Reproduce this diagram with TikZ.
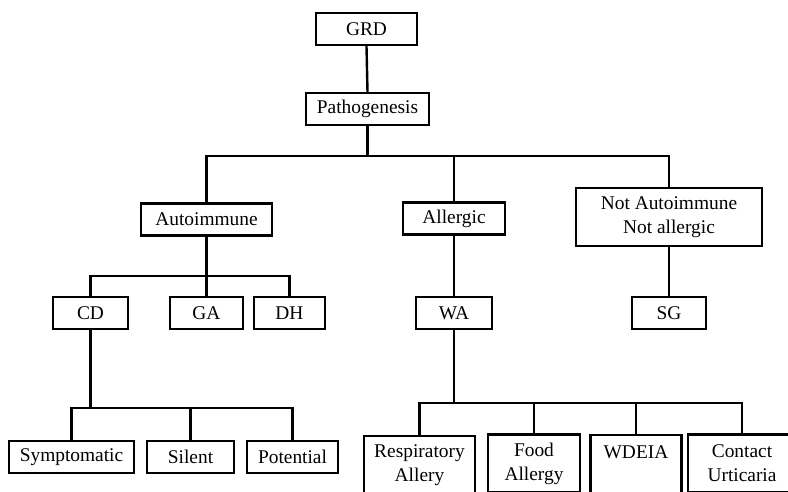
\documentclass[tikz,border=0pt]{standalone}
\usepackage{fontspec}
\setmainfont{Liberation Serif}
\usetikzlibrary{positioning}

\tikzset{
  box/.style={draw, line width=2.4pt, inner sep=0pt, align=center,
    font=\fontsize{19.4}{24}\selectfont, minimum height=32pt},
  tallbox/.style={box, minimum height=58pt},
  link/.style={line width=2.4pt}
}

\begin{document}
\begin{tikzpicture}[x=1pt, y=-1pt]
        \useasboundingbox (0,0) rectangle (788,491);
        \clip (0,0) rectangle (788,491);

        % Top levels
        \node[box, minimum width=101pt] (grd) at (366.5, 29) {GRD};
        \node[box, minimum width=123pt] (patho) at (367.5, 109) {Pathogenesis};

        % Kinds of pathogenesis
        \node[box, minimum width=131pt] (auto) at (206.5, 219.5) {Autoimmune};
        \node[box, minimum width=102pt] (allerg) at (454, 218.5) {Allergic};
        \node[tallbox, minimum width=186pt] (notai) at (669, 217) {Not Autoimmune\\Not allergic};

        % Autoimmune forms
        \node[box, minimum width=75pt] (cd) at (90.5, 313) {CD};
        \node[box, minimum width=73pt] (ga) at (206.5, 313) {GA};
        \node[box, minimum width=71pt] (dh) at (289.5, 313) {DH};

        % Allergic / other forms
        \node[box, minimum width=76pt] (wa) at (454, 313) {WA};
        \node[box, minimum width=74pt] (sg) at (669, 313) {SG};

        % CD forms
        \node[box, minimum width=125pt] (sympt) at (71.5, 457) {Symptomatic};
        \node[box, minimum width=87pt] (silent) at (190.5, 457) {Silent};
        \node[box, minimum width=91pt] (potent) at (292.5, 457) {Potential};

        % WA forms
        \node[tallbox, minimum width=111pt] (resp) at (419.5, 465) {Respiratory\\Allery};
        \node[tallbox, minimum width=92pt] (food) at (534, 463.5) {Food\\Allergy};
        \node[tallbox, minimum width=91pt] (wdeia) at (636, 464) {WDEIA\\~};
        \node[tallbox, minimum width=108pt] (contact) at (742, 463.5) {Contact\\Urticaria};

        % Junctions
        \coordinate (j1) at (patho.south |- 0,156);
        \coordinate (j2) at (auto.south |- 0,276);
        \coordinate (j3) at (cd.south |- 0,408);
        \coordinate (j4) at (wa.south |- 0,403);

        % Connectors
        \draw[link] (grd.south) -- (patho.north);
        \draw[link] (patho.south) -- (j1);
        \draw[link] (auto.north) |- (j1) -| (notai.north);
        \draw[link] (allerg.north) -- (allerg.north |- j1);

        \draw[link] (auto.south) -- (ga.north);
        \draw[link] (cd.north) |- (j2) -| (dh.north);

        \draw[link] (cd.south) -- (j3);
        \draw[link] (sympt.north) |- (j3) -| (potent.north);
        \draw[link] (silent.north) -- (silent.north |- j3);

        \draw[link] (allerg.south) -- (wa.north);
        \draw[link] (notai.south) -- (sg.north);

        \draw[link] (wa.south) -- (j4);
        \draw[link] (resp.north) |- (j4) -| (contact.north);
        \draw[link] (food.north) -- (food.north |- j4);
        \draw[link] (wdeia.north) -- (wdeia.north |- j4);

    \end{tikzpicture}
\end{document}
